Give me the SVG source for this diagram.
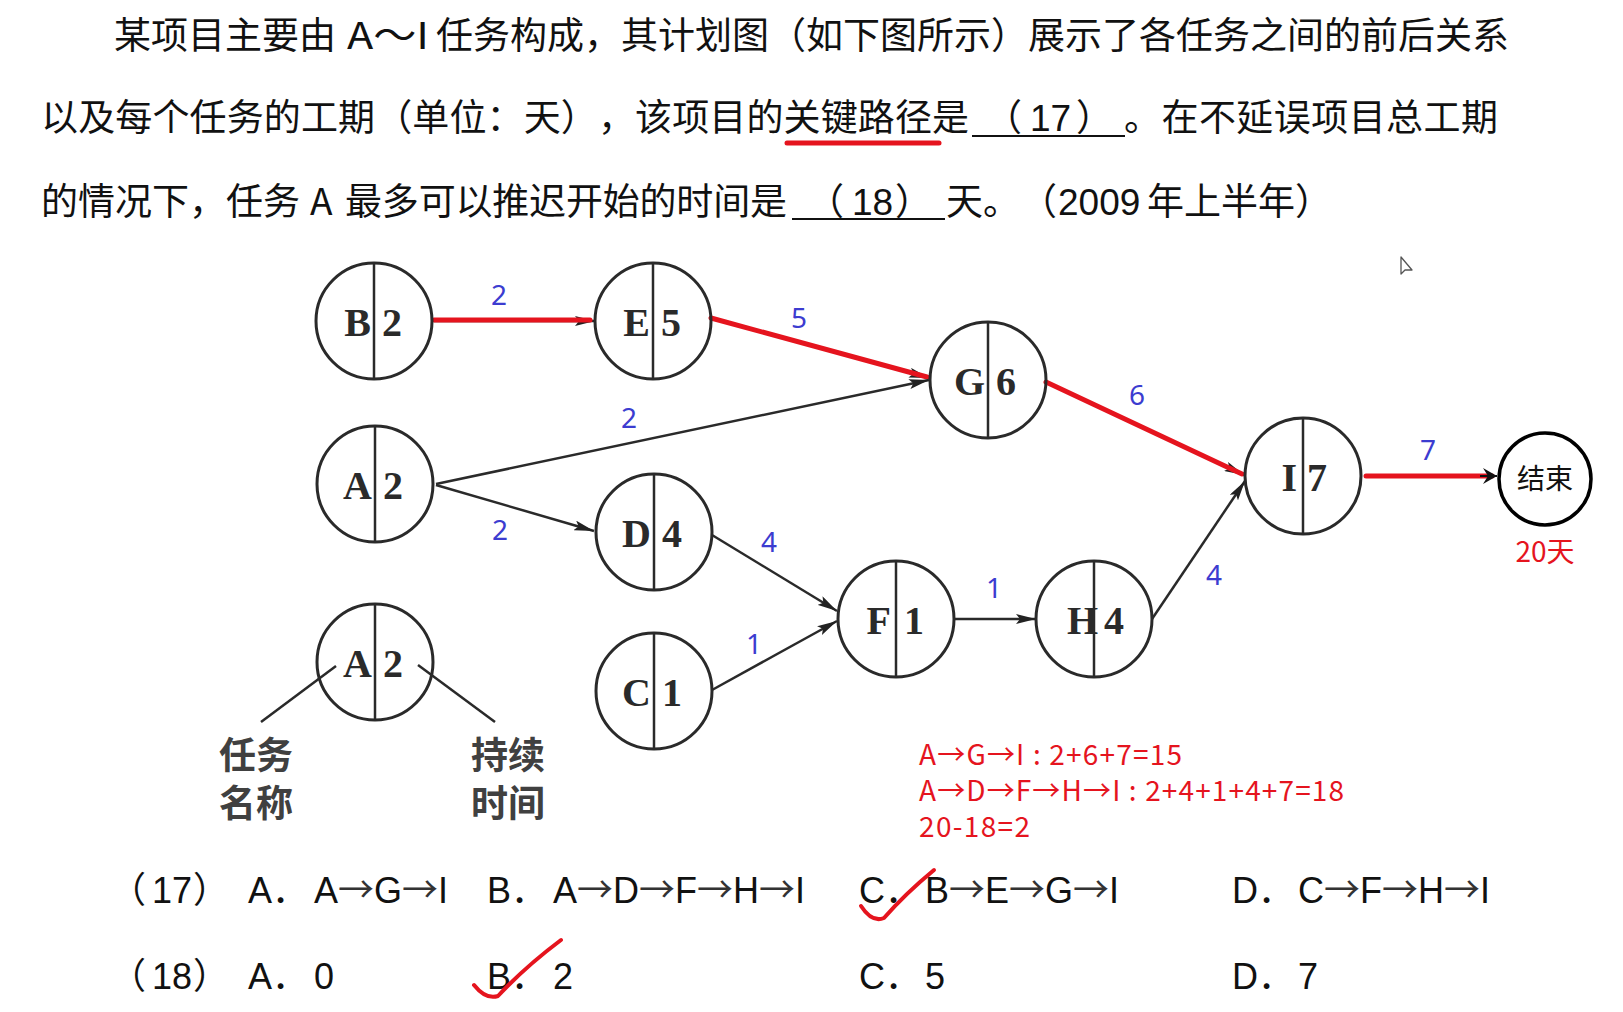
<svg xmlns="http://www.w3.org/2000/svg" width="1623" height="1012" viewBox="0 0 1623 1012">
<style>
.q{font-family:"Noto Sans CJK SC","Noto Sans",sans-serif;font-size:37px;fill:#111;text-spacing-trim:space-all}
.ql{font-family:"Liberation Sans",Arial,sans-serif;font-size:37px;fill:#111}
.nc{fill:none;stroke:#2a2a2a;stroke-width:3}
.dv{stroke:#2a2a2a;stroke-width:2.5}
.nl{font-family:"Liberation Serif","Times New Roman",serif;font-weight:bold;font-size:40px;fill:#2a2a2a;text-anchor:end}
.nn{font-family:"Liberation Serif","Times New Roman",serif;font-weight:bold;font-size:40px;fill:#2a2a2a;text-anchor:start}
.bk{stroke:#2a2a2a;stroke-width:2.5;fill:none}
.rd{stroke:#e5141e;stroke-width:5;fill:none;stroke-linecap:round}
.bl{font-family:"Noto Sans","Open Sans",sans-serif;font-size:28px;fill:#3c3cd0;text-anchor:middle}
.rt{font-family:"Noto Sans CJK SC","Noto Sans",sans-serif;font-size:28px;fill:#e5141e}
.lg{font-family:"Noto Sans CJK SC",sans-serif;font-size:37px;font-weight:bold;fill:#404040;text-anchor:middle}
.op{font-family:"Liberation Sans",Arial,"Noto Sans CJK SC",sans-serif;font-size:36px;fill:#111}
.cj{font-family:"Noto Sans CJK SC",sans-serif;text-spacing-trim:space-all}
.ar{font-family:"Noto Sans CJK SC",sans-serif;fill:#333}
.ck{stroke:#e5141e;stroke-width:4;fill:none;stroke-linecap:round;stroke-linejoin:round}
</style>
<defs>
<marker id="ah" viewBox="0 0 20 10" refX="20" refY="5" markerWidth="20" markerHeight="10" markerUnits="userSpaceOnUse" orient="auto"><path d="M0,0 L20,5 L0,10 L4,5 z" fill="#222"/></marker>
<marker id="ah2" viewBox="0 0 14 16" refX="14" refY="8" markerWidth="14" markerHeight="16" markerUnits="userSpaceOnUse" orient="auto"><path d="M0,0 L14,8 L0,16 L5,8 z" fill="#111"/></marker>
</defs>
<rect width="1623" height="1012" fill="#fff"/>

<!-- question text -->
<g id="question">
<text class="q" y="49"><tspan x="114">某项目主要由</tspan><tspan x="347" textLength="82" lengthAdjust="spacingAndGlyphs">A～I</tspan><tspan x="436" textLength="1073">任务构成，其计划图（如下图所示）展示了各任务之间的前后关系</tspan></text>
<text class="q" y="131"><tspan x="41" textLength="928">以及每个任务的工期（单位：天），该项目的关键路径是</tspan><tspan x="985">（</tspan><tspan x="1030" class="ql">17</tspan><tspan x="1076">）</tspan><tspan x="1124" textLength="374">。在不延误项目总工期</tspan></text>
<line x1="972" y1="136" x2="1125" y2="136" stroke="#111" stroke-width="2"/>
<line x1="787" y1="143" x2="939" y2="143" class="rd" stroke-width="4"/>
<text class="q" y="215"><tspan x="41" textLength="259">的情况下，任务</tspan><tspan x="310">A</tspan><tspan x="345" textLength="442">最多可以推迟开始的时间是</tspan><tspan x="807">（</tspan><tspan x="852" class="ql">18</tspan><tspan x="895">）</tspan><tspan x="946">天。（</tspan><tspan x="1058" class="ql">2009</tspan><tspan x="1147">年上半年）</tspan></text>
<line x1="792" y1="219" x2="945" y2="219" stroke="#111" stroke-width="2"/>
</g>

<!-- connectors -->
<g id="connectors">
<line class="bk" x1="434" y1="321" x2="595" y2="321" marker-end="url(#ah)"/>
<line class="rd" x1="434" y1="320" x2="590" y2="320"/>
<line class="bk" x1="711" y1="318" x2="929" y2="378" marker-end="url(#ah)"/>
<line class="rd" x1="711" y1="318" x2="927" y2="377"/>
<line class="bk" x1="436" y1="484" x2="929" y2="380" marker-end="url(#ah)"/>
<line class="bk" x1="436" y1="485" x2="594" y2="531" marker-end="url(#ah)"/>
<line class="bk" x1="1046" y1="382" x2="1244" y2="475" marker-end="url(#ah)"/>
<line class="rd" x1="1046" y1="382" x2="1242" y2="474"/>
<line class="bk" x1="712" y1="535" x2="837" y2="611" marker-end="url(#ah)"/>
<line class="bk" x1="712" y1="690" x2="837" y2="621" marker-end="url(#ah)"/>
<line class="bk" x1="954" y1="619" x2="1036" y2="619" marker-end="url(#ah)"/>
<line class="bk" x1="1152" y1="619" x2="1245" y2="481" marker-end="url(#ah)"/>
<line class="rd" x1="1366" y1="476" x2="1492" y2="476"/>
<line x1="1480" y1="476" x2="1497" y2="476" stroke="#111" stroke-width="2" marker-end="url(#ah2)"/>
<line class="bk" x1="336" y1="666" x2="261" y2="722"/>
<line class="bk" x1="418" y1="665" x2="495" y2="722"/>
</g>

<!-- edge labels -->
<g id="edge-labels">
<text class="bl" x="499" y="305">2</text>
<text class="bl" x="799" y="328">5</text>
<text class="bl" x="629" y="428">2</text>
<text class="bl" x="500" y="540">2</text>
<text class="bl" x="769" y="552">4</text>
<text class="bl" x="1137" y="405">6</text>
<text class="bl" x="1428" y="460">7</text>
<text class="bl" x="994" y="598">1</text>
<text class="bl" x="1214" y="585">4</text>
<text class="bl" x="754" y="654">1</text>
</g>

<!-- nodes -->
<g id="node-B"><circle class="nc" cx="374" cy="321" r="58"/><line class="dv" x1="374" y1="263" x2="374" y2="379"/><text class="nl" x="371" y="336">B</text><text class="nn" x="382" y="336">2</text></g>
<g id="node-E"><circle class="nc" cx="653" cy="321" r="58"/><line class="dv" x1="653" y1="263" x2="653" y2="379"/><text class="nl" x="650" y="336">E</text><text class="nn" x="661" y="336">5</text></g>
<g id="node-G"><circle class="nc" cx="988" cy="380" r="58"/><line class="dv" x1="988" y1="322" x2="988" y2="438"/><text class="nl" x="985" y="395">G</text><text class="nn" x="996" y="395">6</text></g>
<g id="node-A"><circle class="nc" cx="375" cy="484" r="58"/><line class="dv" x1="375" y1="426" x2="375" y2="542"/><text class="nl" x="372" y="499">A</text><text class="nn" x="383" y="499">2</text></g>
<g id="node-D"><circle class="nc" cx="654" cy="532" r="58"/><line class="dv" x1="654" y1="474" x2="654" y2="590"/><text class="nl" x="651" y="547">D</text><text class="nn" x="662" y="547">4</text></g>
<g id="node-F"><circle class="nc" cx="896" cy="619" r="58"/><line class="dv" x1="896" y1="561" x2="896" y2="677"/><text class="nl" x="891" y="634">F</text><text class="nn" x="904" y="634">1</text></g>
<g id="node-H"><circle class="nc" cx="1094" cy="619" r="58"/><line class="dv" x1="1094" y1="561" x2="1094" y2="677"/><text class="nl" x="1098" y="634">H</text><text class="nn" x="1104" y="634">4</text></g>
<g id="node-I"><circle class="nc" cx="1303" cy="476" r="58"/><line class="dv" x1="1303" y1="418" x2="1303" y2="534"/><text class="nl" x="1297" y="491">I</text><text class="nn" x="1307" y="491">7</text></g>
<g id="node-C"><circle class="nc" cx="654" cy="691" r="58"/><line class="dv" x1="654" y1="633" x2="654" y2="749"/><text class="nl" x="651" y="706">C</text><text class="nn" x="662" y="706">1</text></g>
<g id="node-end"><circle cx="1545" cy="479" r="46" fill="none" stroke="#000" stroke-width="3.5"/><text class="rt" x="1545" y="489" text-anchor="middle" style="fill:#111">结束</text></g>
<g id="total"><text class="rt" x="1545" y="562" text-anchor="middle">20天</text></g>

<!-- legend -->
<g id="legend">
<circle class="nc" cx="375" cy="662" r="58"/><line class="dv" x1="375" y1="604" x2="375" y2="720"/><text class="nl" x="372" y="677">A</text><text class="nn" x="383" y="677">2</text>
<text class="lg"><tspan x="256" y="769">任务</tspan><tspan x="256" y="817">名称</tspan></text>
<text class="lg"><tspan x="508" y="769">持续</tspan><tspan x="508" y="817">时间</tspan></text>
</g>

<!-- annotations -->
<g id="notes">
<text class="rt"><tspan x="919" y="765" textLength="263">A→G→I : 2+6+7=15</tspan><tspan x="919" y="801" textLength="425">A→D→F→H→I : 2+4+1+4+7=18</tspan><tspan x="919" y="837" textLength="111">20-18=2</tspan></text>
</g>

<!-- cursor -->
<path d="M1401,257 L1401,274 L1405,270 L1412,270 Z" fill="#fff" stroke="#555" stroke-width="1.3" stroke-linejoin="round"/>

<!-- options -->
<g id="options">
<text class="op" y="903"><tspan x="110" class="cj">（</tspan><tspan x="152">17</tspan><tspan x="193" class="cj">）</tspan><tspan x="248">A．</tspan><tspan x="314">A<tspan class="ar">→</tspan>G<tspan class="ar">→</tspan>I</tspan><tspan x="487">B．</tspan><tspan x="553">A<tspan class="ar">→</tspan>D<tspan class="ar">→</tspan>F<tspan class="ar">→</tspan>H<tspan class="ar">→</tspan>I</tspan><tspan x="859">C．</tspan><tspan x="925">B<tspan class="ar">→</tspan>E<tspan class="ar">→</tspan>G<tspan class="ar">→</tspan>I</tspan><tspan x="1232">D．</tspan><tspan x="1298">C<tspan class="ar">→</tspan>F<tspan class="ar">→</tspan>H<tspan class="ar">→</tspan>I</tspan></text>
<text class="op" y="989"><tspan x="110" class="cj">（</tspan><tspan x="152">18</tspan><tspan x="193" class="cj">）</tspan><tspan x="248">A．</tspan><tspan x="314">0</tspan><tspan x="487">B．</tspan><tspan x="553">2</tspan><tspan x="859">C．</tspan><tspan x="925">5</tspan><tspan x="1232">D．</tspan><tspan x="1298">7</tspan></text>
<path class="ck" d="M861,906 Q872,923 884,918 Q905,894 934,870"/>
<path class="ck" d="M474,985 Q486,1000 498,996 Q525,967 561,940"/>
</g>
</svg>
